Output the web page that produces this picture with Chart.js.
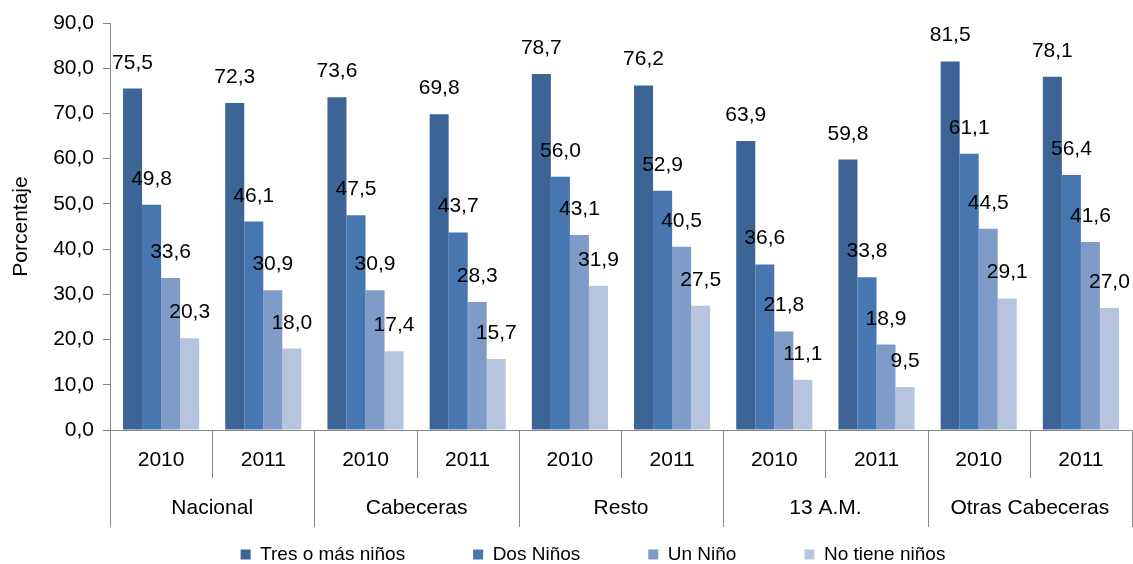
<!DOCTYPE html>
<html>
<head>
<meta charset="utf-8">
<script src="https://cdn.jsdelivr.net/npm/chart.js@4.4.1/dist/chart.umd.min.js"></script>
<style>
  html, body { margin: 0; padding: 0; background: #ffffff; }
  #wrap { width: 1133px; height: 564px; }
</style>
</head>
<body>
<div id="wrap"><canvas id="c" width="1133" height="564"></canvas></div>
<script>
const years = ['2010', '2011', '2010', '2011', '2010', '2011', '2010', '2011', '2010', '2011'];
const groups = ['Nacional', 'Cabeceras', 'Resto', '13 A.M.', 'Otras Cabeceras'];
const seriesNames = ['Tres o más niños', 'Dos Niños', 'Un Niño', 'No tiene niños'];
const tresOMas = [75.5, 72.3, 73.6, 69.8, 78.7, 76.2, 63.9, 59.8, 81.5, 78.1];
const dosNinos = [49.8, 46.1, 47.5, 43.7, 56.0, 52.9, 36.6, 33.8, 61.1, 56.4];
const unNino   = [33.6, 30.9, 30.9, 28.3, 43.1, 40.5, 21.8, 18.9, 44.5, 41.6];
const noTiene  = [20.3, 18.0, 17.4, 15.7, 31.9, 27.5, 11.1, 9.5, 29.1, 27.0];
const colors = ['#3C6494', '#4876B0', '#7F9CC8', '#B6C4DF'];

const FONT = '"Liberation Sans", Arial, sans-serif';
const AXIS_COLOR = '#868686';
const fmt = v => Number(v).toFixed(1).replace('.', ',');

const valueLabels = {
  id: 'valueLabels',
  afterDatasetsDraw(chart) {
    const ctx = chart.ctx;
    ctx.save();
    ctx.font = '21px ' + FONT;
    ctx.fillStyle = '#000000';
    ctx.textAlign = 'center';
    ctx.textBaseline = 'alphabetic';
    chart.data.datasets.forEach((ds, di) => {
      const meta = chart.getDatasetMeta(di);
      meta.data.forEach((el, i) => {
        ctx.fillText(fmt(ds.data[i]), el.x, el.y - 20);
      });
    });
    ctx.restore();
  }
};

const multiAxis = {
  id: 'multiAxis',
  afterDraw(chart) {
    const x = chart.scales.x;
    const ctx = chart.ctx;
    const axisY = chart.chartArea.bottom;
    const n = years.length;
    const w = (x.right - x.left) / n;
    ctx.save();
    ctx.strokeStyle = AXIS_COLOR;
    ctx.lineWidth = 1;
    for (let i = 0; i <= n; i++) {
      const px = Math.round(x.left + i * w) + 0.5;
      const long = (i % 2 === 0);
      ctx.beginPath();
      ctx.moveTo(px, axisY);
      ctx.lineTo(px, axisY + (long ? 97 : 48));
      ctx.stroke();
    }
    ctx.fillStyle = '#000000';
    ctx.font = '21px ' + FONT;
    ctx.textAlign = 'center';
    ctx.textBaseline = 'middle';
    years.forEach((y, i) => {
      ctx.fillText(y, x.getPixelForValue(i), axisY + 30);
    });
    groups.forEach((g, gi) => {
      const cx = (x.getPixelForValue(gi * 2) + x.getPixelForValue(gi * 2 + 1)) / 2;
      ctx.fillText(g, cx, axisY + 78);
    });
    ctx.restore();
  }
};

const legendShift = {
  id: 'legendShift',
  afterLayout(chart) {
    const L = chart.legend;
    if (L) { L.left += 27; L.right += 27; }
  }
};

const datasets = [tresOMas, dosNinos, unNino, noTiene].map((d, i) => ({
  label: seriesNames[i],
  data: d,
  backgroundColor: colors[i],
  borderWidth: 0,
  categoryPercentage: 0.745,
  barPercentage: 1.0
}));

new Chart(document.getElementById('c'), {
  type: 'bar',
  data: { labels: years, datasets },
  options: {
    responsive: false,
    animation: false,
    devicePixelRatio: 1,
    layout: { padding: { top: 23, right: 1, left: 0, bottom: -10 } },
    plugins: {
      tooltip: { enabled: false },
      legend: {
        position: 'bottom',
        labels: {
          boxWidth: 10,
          boxHeight: 10,
          padding: 68,
          color: '#000000',
          font: { family: FONT, size: 19 }
        }
      }
    },
    scales: {
      x: {
        type: 'category',
        offset: true,
        grid: { display: false },
        border: { display: true, color: AXIS_COLOR },
        ticks: { display: false },
        afterFit(scale) { scale.height = 47; }
      },
      y: {
        min: 0,
        max: 90,
        ticks: {
          stepSize: 10,
          padding: 9,
          color: '#000000',
          font: { family: FONT, size: 21 },
          callback: v => fmt(v)
        },
        grid: { display: true, drawOnChartArea: false, drawTicks: true, tickLength: 7, color: AXIS_COLOR },
        border: { display: true, color: AXIS_COLOR },
        title: {
          display: true,
          text: 'Porcentaje',
          color: '#000000',
          font: { family: FONT, size: 21 },
          padding: { top: 9, bottom: 4 }
        },
        afterFit(scale) { scale.width = 110; }
      }
    }
  },
  plugins: [valueLabels, multiAxis, legendShift]
});
</script>
</body>
</html>
